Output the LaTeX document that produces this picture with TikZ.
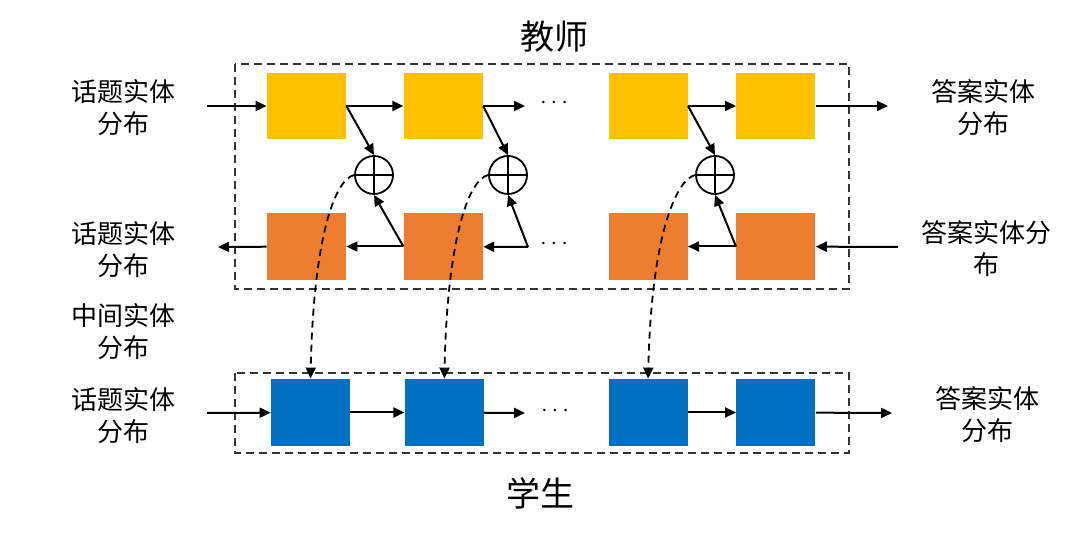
\documentclass[tikz,border=0pt]{standalone}
\usepackage{fontspec}
\setmainfont{Noto Sans CJK SC}
\usetikzlibrary{arrows.meta, positioning}

\definecolor{tyellow}{HTML}{FFC000}
\definecolor{torange}{HTML}{ED7D31}
\definecolor{tblue}{HTML}{0070C0}

\begin{document}
\begin{tikzpicture}[
    x=0.5pt, y=-0.5pt,
    ybox/.style={fill=tyellow, minimum width=39.5pt, minimum height=33pt, inner sep=0pt},
    obox/.style={fill=torange, minimum width=39.5pt, minimum height=33.5pt, inner sep=0pt},
    bbox/.style={fill=tblue, minimum width=39.5pt, minimum height=33.5pt, inner sep=0pt},
    plus/.style={draw, circle, line width=0.9pt, minimum size=19pt, inner sep=0pt,
        path picture={\draw[line width=0.9pt] (path picture bounding box.north) -- (path picture bounding box.south)
            (path picture bounding box.west) -- (path picture bounding box.east);}},
    lbl/.style={align=center, font=\fontsize{13}{16}\selectfont},
    ttl/.style={font=\fontsize{17}{20}\selectfont},
    dots/.style={font=\fontsize{12.5}{14}\selectfont},
    arr/.style={-{Triangle[length=5.5pt, width=5pt]}, line width=1pt},
    darr/.style={arr, dash pattern=on 3.5pt off 2.5pt, line width=0.9pt},
    tframe/.style={dash pattern=on 4pt off 2.5pt, line width=1pt, draw=black!80}
]
\useasboundingbox (0,0) rectangle (1080,533);

% teacher
\draw[tframe] (235,64) rectangle (849,289);
\node[ttl] (teacher) at (554,37) {教师};

\node[ybox] (y1) at (306.5,106) {};
\node[ybox, right=28.5pt of y1] (y2) {};
\node[ybox, right=62.5pt of y2] (y3) {};
\node[ybox, right=24pt of y3] (y4) {};

\node[obox] (o1) at (306.5,246.5) {};
\node[obox, right=28.5pt of o1] (o2) {};
\node[obox, right=62.5pt of o2] (o3) {};
\node[obox, right=24pt of o3] (o4) {};

\node[plus] (p1) at (374,175) {};
\node[plus] (p2) at (508,175) {};
\node[plus] (p3) at (715,175) {};

\node[dots] (ydots) at (554,103) {$\cdots$};
\node[dots] (odots) at (554,244) {$\cdots$};

\coordinate (yin) at (207,106);
\coordinate (yout) at (888,106);
\coordinate (ymid) at (525,106);
\coordinate (oin) at (898,247);
\coordinate (oout) at (218,247);
\coordinate (omid) at (528,247);

\draw[arr] (yin) -- (y1);
\draw[arr] (y1) -- (y2);
\draw[arr] (y2) -- (ymid);
\draw[arr] (y3) -- (y4);
\draw[arr] (y4) -- (yout);

\draw[arr] (oin) -- (o4);
\draw[arr] (o4) -- (o3);
\draw[arr] (omid) -- (o2);
\draw[arr] (o2) -- (o1);
\draw[arr] (o1) -- (oout);

\draw[arr] (y1.east) -- (p1.north);
\draw[arr] (y2.east) -- (p2.north);
\draw[arr] (y3.east) -- (p3.north);
\draw[arr] (o2.west) -- (p1.south);
\draw[arr] (omid) -- (p2.south);
\draw[arr] (o4.west) -- (p3.south);

% student
\draw[tframe] (235,373) rectangle (849,453);
\node[ttl] (student) at (540,493) {学生};

\node[bbox] (b1) at (310.5,412.5) {};
\node[bbox, right=27pt of b1] (b2) {};
\node[bbox, right=62pt of b2] (b3) {};
\node[bbox, right=24pt of b3] (b4) {};

\node[dots] (bdots) at (555,411) {$\cdots$};

\coordinate (bin) at (207,413);
\coordinate (bout) at (892,413);
\coordinate (bmid) at (525,413);

\draw[arr] (bin) -- (b1);
\draw[arr] (b1) -- (b2);
\draw[arr] (b2) -- (bmid);
\draw[arr] (b3) -- (b4);
\draw[arr] (b4) -- (bout);

% distillation
\draw[darr] (p1.west) .. controls +(-20,5) and +(3,-139) .. (b1.north);
\draw[darr] (p2.west) .. controls +(-20,5) and +(3,-139) .. (b2.north);
\draw[darr] (p3.west) .. controls +(-20,5) and +(3,-139) .. (b3.north);

% labels
\node[lbl] (lt1) at (123,108) {话题实体\\分布};
\node[lbl] (lt2) at (123,249.5) {话题实体\\分布};
\node[lbl] (lm) at (123,332) {中间实体\\分布};
\node[lbl] (lt3) at (123,415.5) {话题实体\\分布};
\node[lbl] (ra1) at (983,107.5) {答案实体\\分布};
\node[lbl] (ra2) at (986,248.5) {答案实体分\\布};
\node[lbl] (ra3) at (987,415) {答案实体\\分布};

\end{tikzpicture}
\end{document}
